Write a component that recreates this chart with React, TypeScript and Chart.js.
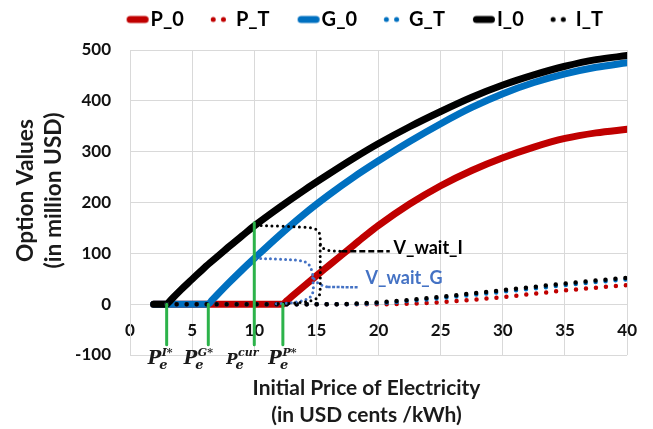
import { useEffect, useRef } from 'react';
import { Chart, registerables } from 'chart.js';

Chart.register(...registerables);

// ---------------- data ----------------
const seriesNames = ['P_0', 'P_T', 'G_0', 'G_T', 'I_0', 'I_T'];

const xTickMin = 0;
const xTickMax = 40;
const xTickStep = 5;
const yTickMin = -100;
const yTickMax = 500;
const yTickStep = 100;

// option values, invest now (solid curves)
const p0Price = [1.9, 12.3, 12.6, 13, 14, 15, 16, 17, 18, 19, 20, 22.5, 25, 27.5, 30, 32.5, 35, 37.5, 40];
const p0Value = [0, 0, 6.3, 14.7, 35.5, 56, 76, 96, 116, 136, 155, 197, 233, 263, 288, 309, 326, 337, 344];
const g0Price = [1.9, 6.3, 6.6, 7, 8, 9, 10, 12, 14, 16, 18, 20, 22.5, 25, 27.5, 30, 32.5, 35, 37.5, 40];
const g0Value = [0, 0, 7.8, 18, 43, 67, 90, 135, 177, 215, 250, 282, 320, 355, 387, 414, 436, 453, 466, 475];
const i0Price = [1.9, 2.95, 3.25, 4, 5, 6, 7, 8, 9, 10, 12, 14, 16, 18, 20, 22.5, 25, 27.5, 30, 32.5, 35, 37.5, 40];
const i0Value = [0, 0, 7.3, 26, 49, 72, 93, 114, 134, 154, 190, 224, 256, 287, 316, 349, 379, 407, 431, 451, 468, 481, 489];

// option values, wait (dotted curves)
const pTPrice = [2.95, 21, 22.5, 25, 27.5, 30, 32.5, 35, 37.5, 40];
const pTValue = [0, 0, 1, 4, 8.5, 14, 20.5, 27, 32.5, 37.5];
const gTPrice = [2.95, 17.5, 20, 22.5, 25, 27.5, 30, 32.5, 35, 37.5, 40];
const gTValue = [0, 0, 2, 6.5, 12, 18, 24.5, 31, 37.5, 43.5, 49];
const iTPrice = [2.95, 16.5, 18, 20, 22.5, 25, 27.5, 30, 32.5, 35, 37.5, 40];
const iTValue = [0, 0, 1, 3.5, 8.5, 14.5, 21, 27.5, 34, 40.5, 46.5, 52];

// V_wait brackets
const waitIUpperPrice = [10.1, 12, 14, 14.8, 15.15, 15.3, 15.3, 15.45, 15.8, 16.4, 17];
const waitIUpperValue = [155, 153.5, 151.5, 149, 143, 134, 120, 112, 107, 104.5, 104];
const waitIPointerPrice = [17, 20.9];
const waitIPointerValue = [104, 104];
const waitILowerPrice = [15.3, 15.3, 15.2, 14.8, 14.1, 13, 11.6];
const waitILowerValue = [116, 30, 16, 8.5, 4.5, 1.8, 0.5];

const waitGUpperPrice = [10.1, 12, 13.6, 14.2, 14.5, 14.65, 14.8, 15.1, 15.5, 15.9];
const waitGUpperValue = [90, 88.5, 86, 82, 74, 63, 50, 42, 36.5, 34];
const waitGPointerPrice = [15.9, 18.4];
const waitGPointerValue = [34, 33];
const waitGLowerPrice = [14.7, 14.75, 14.6, 14.2, 13.5, 12.6, 11.5];
const waitGLowerValue = [52, 30, 17, 9.5, 5, 2, 0.5];

const waitLabels = ['V_wait_I', 'V_wait_G'];
const waitLabelPrice = [21.2, 18.95];
const waitLabelValue = [111, 51];

// threshold prices (green markers)
const thresholdPrice = [2.95, 6.3, 10, 12.3];
const thresholdTop = [0, 0, 160, 0];
const thresholdBottom = -80;
const thresholdSup = ['I*', 'G*', 'cur', 'P*'];

const xTitleLines = ['Initial Price of Electricity', '(in USD cents /kWh)'];
const yTitleLines = ['Option Values', '(in million USD)'];

// ---------------- styles ----------------
const RED = '#c00000';
const BLUE = '#0070c0';
const BLACK = '#000000';
const BRACE_BLUE = '#4472c4';
const GREEN = '#2cb34a';
const GRID = '#d9d9d9';
const FONT = 'Lato';

function pts(xs: number[], ys: number[]) {
  return xs.map((x, i) => ({ x, y: ys[i] }));
}

function makeMarker(color: string, dotted: boolean): HTMLCanvasElement {
  const c = document.createElement('canvas');
  c.width = 48;
  c.height = 12;
  const g = c.getContext('2d')!;
  g.fillStyle = color;
  g.strokeStyle = color;
  if (dotted) {
    [25.3, 35.5].forEach((cx) => {
      g.beginPath();
      g.arc(cx, 6, 2.5, 0, Math.PI * 2);
      g.fill();
    });
  } else {
    g.lineWidth = 7;
    g.lineCap = 'round';
    g.beginPath();
    g.moveTo(27.5, 6);
    g.lineTo(42.5, 6);
    g.stroke();
  }
  return c;
}

function fitFont(ctx: CanvasRenderingContext2D, text: string, width: number) {
  ctx.font = `bold 20px ${FONT}`;
  const w = ctx.measureText(text).width;
  return (20 * width) / w;
}

const LEG_PAD = 14;
const LEG_BOX = 28;
const LEG_FONT = 20;

const legendShift = {
  id: 'legendShift',
  afterLayout(chart: any) {
    const lg = chart.legend;
    if (!lg || !lg.lineWidths) return;
    const ca = chart.chartArea;
    const startX = (lg.left + LEG_PAD + lg.right - lg.lineWidths[0]) / 2;
    const dx = ca.left + 20.6 - (startX + LEG_BOX + LEG_FONT / 2);
    lg.left += dx;
    lg.right += dx;
    const textY = lg.top + LEG_PAD + LEG_FONT / 2;
    const dy = ca.top - 30.5 - textY;
    lg.top += dy;
    lg.bottom += dy;
  },
};

const annotations = {
  id: 'annotations',
  afterDraw(chart: any) {
    const { ctx, chartArea: ca, scales } = chart;
    const xs = scales.x;
    const ys = scales.y;
    ctx.save();

    // V_wait labels
    ctx.font = `bold 18px ${FONT}`;
    ctx.textBaseline = 'middle';
    ctx.textAlign = 'left';
    waitLabels.forEach((t, i) => {
      ctx.fillStyle = i === 0 ? BLACK : BRACE_BLUE;
      ctx.fillText(t, xs.getPixelForValue(waitLabelPrice[i]), ys.getPixelForValue(waitLabelValue[i]));
    });

    // P_e labels under the green markers
    const offsets = [-19, -24.5, -28, -14.5];
    ctx.fillStyle = '#1a1a1a';
    ctx.textBaseline = 'alphabetic';
    const base = ca.bottom + 9;
    thresholdPrice.forEach((p, i) => {
      const x0 = xs.getPixelForValue(p) + offsets[i];
      const small = thresholdSup[i] === 'cur';
      ctx.font = `italic bold ${small ? 15 : 18}px "DejaVu Serif"`;
      ctx.fillText('P', x0, base);
      const w = ctx.measureText('P').width;
      ctx.font = `italic bold 11px "DejaVu Serif"`;
      ctx.fillText(thresholdSup[i], x0 + w + 0.5, base - 8);
      ctx.font = `italic bold 13px "DejaVu Serif"`;
      ctx.fillText('e', x0 + w - 2, base + 5);
    });

    // x axis title
    ctx.fillStyle = '#1a1a1a';
    ctx.textAlign = 'center';
    ctx.textBaseline = 'middle';
    const xs1 = fitFont(ctx, xTitleLines[0], 228);
    ctx.font = `bold ${xs1}px ${FONT}`;
    const cx = ca.left + 236.5;
    ctx.fillText(xTitleLines[0], cx, ca.bottom + 33);
    ctx.fillText(xTitleLines[1], cx, ca.bottom + 60);

    // y axis title
    const ys1 = fitFont(ctx, yTitleLines[0], 143);
    ctx.font = `bold ${ys1}px ${FONT}`;
    const cy = ca.top + 140.5;
    ctx.save();
    ctx.translate(ca.left - 104.5, cy);
    ctx.rotate(-Math.PI / 2);
    ctx.fillText(yTitleLines[0], 0, 0);
    ctx.restore();
    ctx.save();
    ctx.translate(ca.left - 76, cy);
    ctx.rotate(-Math.PI / 2);
    ctx.fillText(yTitleLines[1], 0, 0);
    ctx.restore();

    ctx.restore();
  },
};

function line(label: string, data: any[], color: string, width: number, dash: number[], order: number, extra: any = {}) {
  return {
    label,
    data,
    borderColor: color,
    backgroundColor: color,
    borderWidth: width,
    borderDash: dash,
    borderCapStyle: 'round',
    borderJoinStyle: 'round',
    pointRadius: 0,
    fill: false,
    order,
    ...extra,
  };
}

export default function App() {
  const ref = useRef<HTMLCanvasElement | null>(null);

  useEffect(() => {
    if (!ref.current) return;
    const mono = { cubicInterpolationMode: 'monotone' };
    const curve = { tension: 0.35 };
    const DOT = [0, 10];

    const datasets: any[] = [
      line('P_0', pts(p0Price, p0Value), RED, 7, [], 7, mono),
      line('P_T', pts(pTPrice, pTValue), RED, 4.5, DOT, 4, mono),
      line('G_0', pts(g0Price, g0Value), BLUE, 7, [], 6, mono),
      line('G_T', pts(gTPrice, gTValue), BLUE, 4.5, DOT, 3, mono),
      line('I_0', pts(i0Price, i0Value), BLACK, 7, [], 5, mono),
      line('I_T', pts(iTPrice, iTValue), BLACK, 4.5, DOT, 2, mono),
      line('waitI_upper', pts(waitIUpperPrice, waitIUpperValue), BLACK, 3, [0, 5.5], 1, curve),
      line('waitI_pointer', pts(waitIPointerPrice, waitIPointerValue), BLACK, 2.5, [6, 3], 1, { borderCapStyle: 'butt' }),
      line('waitI_lower', pts(waitILowerPrice, waitILowerValue), BLACK, 3, [0, 5.5], 1, curve),
      line('waitG_upper', pts(waitGUpperPrice, waitGUpperValue), BRACE_BLUE, 3, [0, 5], 1, curve),
      line('waitG_pointer', pts(waitGPointerPrice, waitGPointerValue), BRACE_BLUE, 2.5, [3, 1.5], 1, { borderCapStyle: 'butt' }),
      line('waitG_lower', pts(waitGLowerPrice, waitGLowerValue), BRACE_BLUE, 3, [0, 5], 1, curve),
      ...thresholdPrice.map((p, i) =>
        line('threshold' + i, pts([p, p], [thresholdTop[i], thresholdBottom]), GREEN, 3, [], 0, { borderCapStyle: 'butt' })
      ),
    ];

    const markerColors = [RED, RED, BLUE, BLUE, BLACK, BLACK];
    const markers = seriesNames.map((_, i) => makeMarker(markerColors[i], i % 2 === 1));

    const chart = new Chart(ref.current, {
      type: 'line',
      data: { datasets },
      plugins: [legendShift, annotations],
      options: {
        animation: false,
        responsive: true,
        maintainAspectRatio: false,
        events: [],
        layout: { padding: { left: 0, right: 23, top: 6, bottom: 74 } },
        scales: {
          x: {
            type: 'linear',
            min: xTickMin,
            max: xTickMax,
            position: { y: 0 } as any,
            ticks: {
              stepSize: xTickStep,
              padding: 16,
              color: '#111',
              maxRotation: 0,
              autoSkip: false,
              font: { family: FONT, size: 17, weight: 'bold' },
            },
            grid: { color: GRID, drawTicks: false },
            border: { color: GRID },
          },
          y: {
            type: 'linear',
            min: yTickMin,
            max: yTickMax,
            ticks: {
              stepSize: yTickStep,
              padding: 19,
              color: '#111',
              font: { family: FONT, size: 17, weight: 'bold' },
            },
            grid: { color: GRID, drawTicks: false },
            border: { color: GRID },
            afterFit: (s: any) => {
              s.width = 130;
            },
          },
        },
        plugins: {
          tooltip: { enabled: false },
          legend: {
            position: 'top',
            align: 'center',
            fullSize: true,
            labels: {
              usePointStyle: true,
              pointStyleWidth: LEG_BOX,
              padding: LEG_PAD,
              color: '#000',
              font: { family: FONT, size: LEG_FONT, weight: 'bold' },
              generateLabels: () =>
                seriesNames.map((name, i) => ({
                  text: name,
                  pointStyle: markers[i],
                  fillStyle: markerColors[i],
                  strokeStyle: markerColors[i],
                  lineWidth: 0,
                  hidden: false,
                  datasetIndex: i,
                  fontColor: '#000',
                })),
            },
          },
        },
      } as any,
    });
    return () => chart.destroy();
  }, []);

  return (
    <div style={{ position: 'fixed', left: 0, top: 0, width: 653, height: 429, background: '#fff' }}>
      <canvas ref={ref} />
    </div>
  );
}
